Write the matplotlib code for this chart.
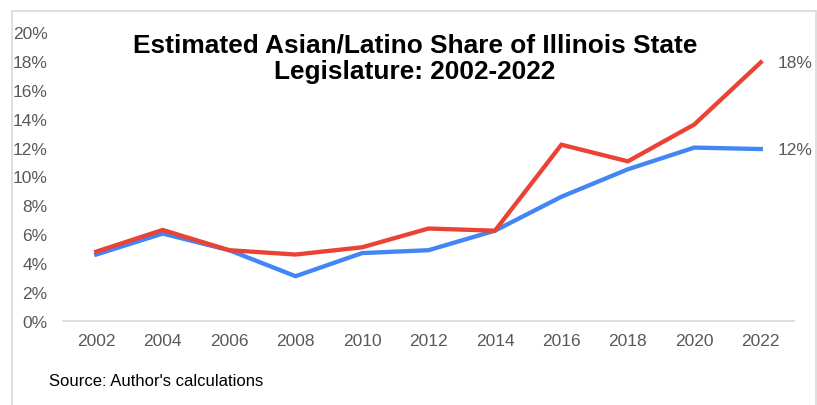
import matplotlib
matplotlib.use("Agg")
import matplotlib.pyplot as plt
from matplotlib.patches import Rectangle

plt.rcParams['font.family'] = ['Liberation Sans', 'DejaVu Sans']

years = [2002, 2004, 2006, 2008, 2010, 2012, 2014, 2016, 2018, 2020, 2022]
red_share = [4.8, 6.3, 4.9, 4.6, 5.1, 6.4, 6.25, 12.2, 11.05, 13.6, 17.9]
blue_share = [4.6, 6.05, 4.9, 3.1, 4.7, 4.9, 6.25, 8.6, 10.5, 12.0, 11.9]
end_labels = ["18%", "12%"]
yticks = list(range(0, 21, 2))

RED = "#EA4335"
BLUE = "#4285F4"
GRAY = "#595959"

fig = plt.figure(figsize=(8.17, 4.06), dpi=100)
ax = fig.add_axes([63/817, 1 - 322/406, (794-63)/817, (322-33)/406])

ax.plot(years, blue_share, color=BLUE, lw=3.1, solid_joinstyle='miter', zorder=3)
ax.plot(years, red_share, color=RED, lw=3.1, solid_joinstyle='miter', zorder=4)

ax.annotate(end_labels[0], (years[-1], red_share[-1]), xytext=(12, 0),
            textcoords='offset points', ha='left', va='center', color=GRAY, fontsize=12.5)
ax.annotate(end_labels[1], (years[-1], blue_share[-1]), xytext=(12, 0),
            textcoords='offset points', ha='left', va='center', color=GRAY, fontsize=12.5)

ax.set_xlim(2001, 2023)
ax.set_ylim(0, 20)
ax.set_xticks(years)
ax.set_xticklabels([str(y) for y in years])
ax.set_yticks(yticks)
ax.set_yticklabels([f"{v}%" for v in yticks])
ax.tick_params(axis='both', length=0, labelsize=12.5, labelcolor=GRAY)
ax.tick_params(axis='y', pad=11)
ax.tick_params(axis='x', pad=9)
for s in ['top', 'right', 'left']:
    ax.spines[s].set_visible(False)
ax.spines['bottom'].set_color('#d9d9d9')
ax.spines['bottom'].set_linewidth(1.2)
ax.patch.set_alpha(0)

fig.text(415/817, 1 - 58.5/406, "Estimated Asian/Latino Share of Illinois State\nLegislature: 2002-2022",
         ha='center', va='center', fontsize=18.9, fontweight='bold', linespacing=1.12, color='black')

fig.text(49/817, 1 - 382/406, "Source: Author's calculations", ha='left', va='center',
         fontsize=12, color='black')

fig.patches.append(Rectangle((12/817, -0.01), (816-12)/817, 1 - 11.5/406 + 0.01,
                             transform=fig.transFigure, fill=False, edgecolor='#d9d9d9', lw=1.2))

fig.savefig("out.png", dpi=100)
